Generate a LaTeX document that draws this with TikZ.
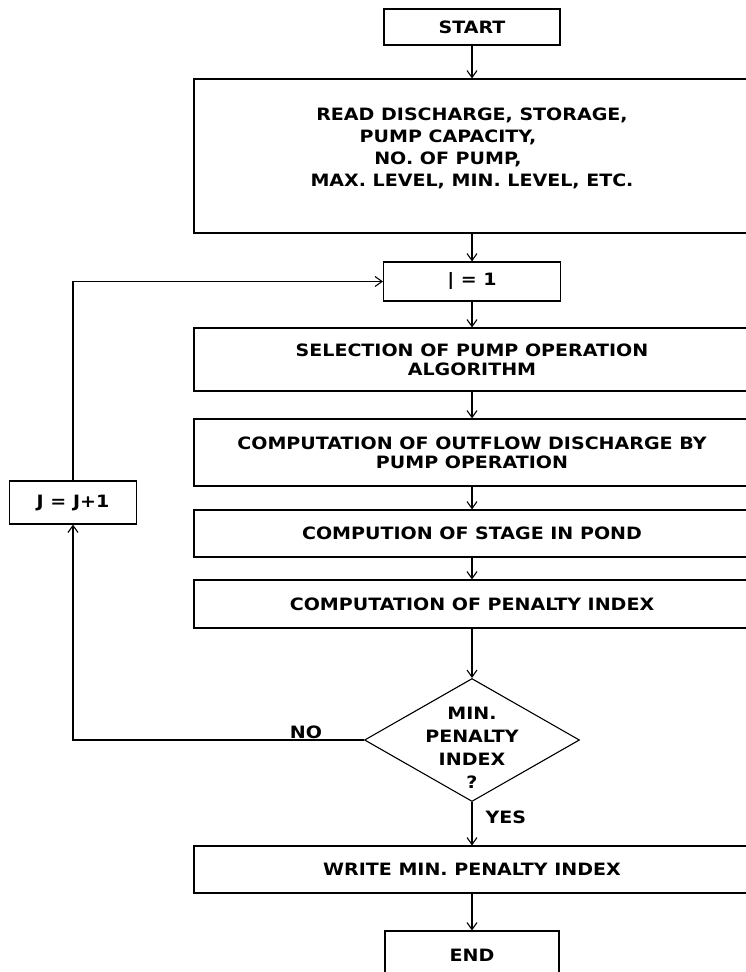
\documentclass[tikz,border=0pt]{standalone}
\usepackage{fontspec}
\setmainfont{DejaVu Sans}[FakeStretch=1.12]
\usetikzlibrary{arrows.meta,shapes.geometric}
\tikzset{
  box/.style={draw, align=center, inner sep=0pt},
  wide/.style={box, minimum width=556pt},
  lbl/.style={inner sep=0pt},
}
\begin{document}
\begin{tikzpicture}[x=1pt, y=-1pt, >={Straight Barb[length=7pt,width=10pt]},
    line width=1.1pt, font=\bfseries\fontsize{17}{21}\selectfont]
\useasboundingbox (0,0) rectangle (746,972);
% main column
\node[box, minimum width=176pt, minimum height=36pt] (start) at (472,27) {START};
\node[wide, minimum height=154pt, font=\bfseries\fontsize{17}{22}\selectfont] (read) at (472,156)
  {READ DISCHARGE, STORAGE,\\ \mbox{PUMP CAPACITY,\hspace{48pt}}\\ \mbox{NO. OF PUMP,\hspace{48pt}}\\ MAX. LEVEL, MIN. LEVEL, ETC.\\[-4pt]\mbox{}};
\node[box, minimum width=177pt, minimum height=39pt] (jone) at (472,281.5) {| = 1};
\node[wide, minimum height=63pt, font=\bfseries\fontsize{17}{19}\selectfont] (select) at (472,359.5)
  {SELECTION OF PUMP OPERATION\\ALGORITHM};
\node[wide, minimum height=67pt, font=\bfseries\fontsize{17}{19}\selectfont] (outflow) at (472,452.5)
  {COMPUTATION OF OUTFLOW DISCHARGE BY\\PUMP OPERATION};
\node[wide, minimum height=47pt] (stage) at (472,533.5) {COMPUTION OF STAGE IN POND};
\node[wide, minimum height=48pt] (penalty) at (472,604) {COMPUTATION OF PENALTY INDEX};
\node[draw, diamond, minimum width=215pt, minimum height=123pt, inner sep=0pt] (decide) at (472,740) {};
\node[lbl, align=center, font=\bfseries\fontsize{17}{23}\selectfont] (decidetext) at (472,748)
  {MIN.\\PENALTY\\INDEX\\?};
\node[wide, minimum height=47pt] (write) at (472,869.5) {WRITE MIN. PENALTY INDEX};
\node[box, minimum width=174pt, minimum height=48pt] (endbox) at (472,955) {END};
% loop box
\node[box, minimum width=127pt, minimum height=43pt] (jinc) at (73,502.5) {J = J+1};
\node[lbl, anchor=south] (nolbl) at (306,739) {NO};
% connectors
\draw[->] (start) -- (read);
\draw[->] (read) -- (jone);
\draw[->] (jone) -- (select);
\draw[->] (select) -- (outflow);
\draw[->] (outflow) -- (stage);
\draw[->] (stage) -- (penalty);
\draw[->] (penalty) -- (decide.north);
\draw[->] (decide.south) -- node[lbl, right=13pt, pos=0.36] (yeslbl) {YES} (write);
\draw[->] (write) -- (endbox);
\draw[->] (decide.west) -| (jinc.south);
\draw[->] (jinc.north) |- (jone.west);
\end{tikzpicture}
\end{document}
